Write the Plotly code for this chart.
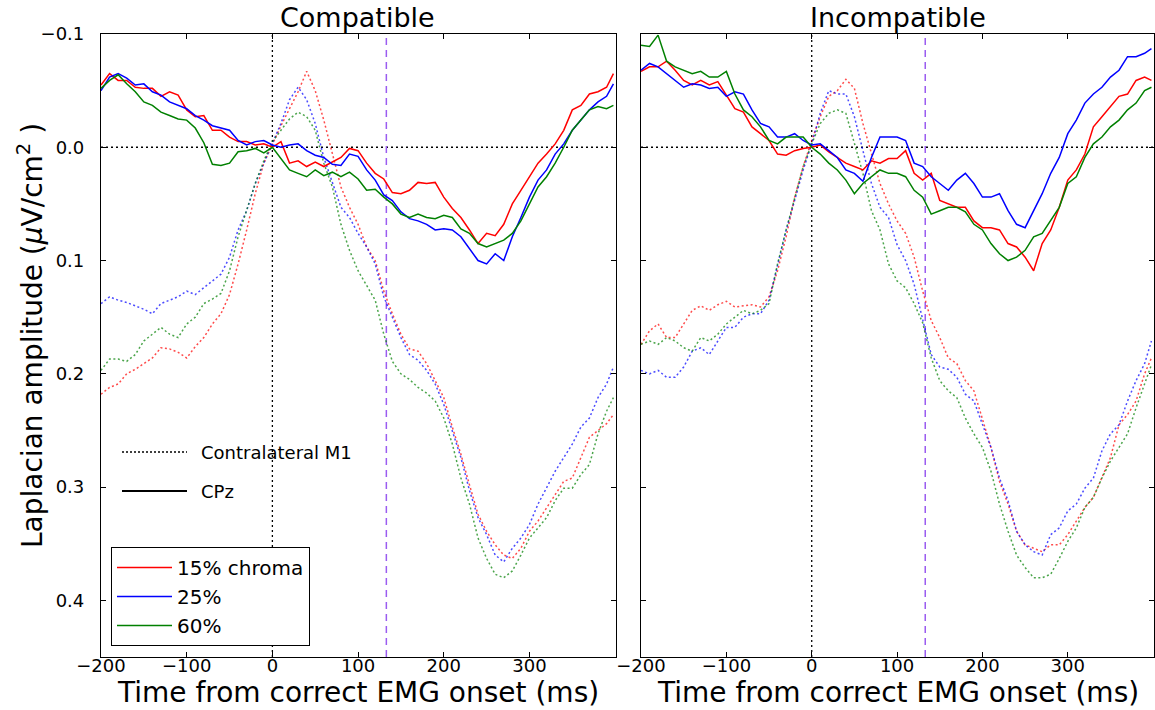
import plotly.graph_objects as go

# ---------------- data ----------------
TIME_MS = list(range(-200, 400, 10)) + [398]

CONDITIONS = ["15% chroma", "25%", "60%"]
COLORS = ["#ff0000", "#0000ff", "#008000"]

# Compatible, CPz (solid)
COMP_CPZ_15 = [-0.055, -0.065, -0.059, -0.059, -0.053, -0.052, -0.052, -0.045, -0.049, -0.046,
               -0.033, -0.027, -0.028, -0.015, -0.015, -0.009, -0.005, -0.005, -0.002, -0.003,
               0.000, -0.005, 0.014, 0.012, 0.017, 0.013, 0.017, 0.013, 0.009, 0.001,
               0.003, 0.014, 0.023, 0.028, 0.040, 0.041, 0.038, 0.031, 0.032, 0.031,
               0.044, 0.054, 0.062, 0.073, 0.085, 0.076, 0.078, 0.068, 0.050, 0.038,
               0.026, 0.014, 0.006, -0.003, -0.015, -0.033, -0.037, -0.047, -0.049, -0.053,
               -0.065]
COMP_CPZ_25 = [-0.050, -0.062, -0.065, -0.061, -0.055, -0.056, -0.049, -0.046, -0.040, -0.037,
               -0.034, -0.028, -0.024, -0.019, -0.017, -0.015, -0.006, -0.002, -0.005, -0.006,
               -0.002, 0.000, -0.002, -0.003, 0.003, 0.007, 0.009, 0.015, 0.016, 0.006,
               0.008, 0.020, 0.029, 0.042, 0.047, 0.057, 0.063, 0.065, 0.068, 0.073,
               0.072, 0.073, 0.079, 0.090, 0.100, 0.103, 0.094, 0.100, 0.079, 0.062,
               0.044, 0.029, 0.020, 0.006, -0.003, -0.015, -0.024, -0.033, -0.040, -0.045,
               -0.056]
COMP_CPZ_60 = [-0.052, -0.059, -0.064, -0.056, -0.049, -0.040, -0.037, -0.031, -0.028, -0.025,
               -0.024, -0.017, -0.004, 0.015, 0.016, 0.014, 0.004, 0.003, 0.001, 0.005,
               0.000, 0.010, 0.020, 0.023, 0.026, 0.020, 0.025, 0.022, 0.026, 0.022,
               0.028, 0.038, 0.037, 0.044, 0.050, 0.059, 0.062, 0.059, 0.062, 0.063,
               0.060, 0.062, 0.072, 0.076, 0.085, 0.088, 0.085, 0.082, 0.076, 0.065,
               0.050, 0.035, 0.026, 0.014, 0.000, -0.015, -0.024, -0.033, -0.036, -0.034,
               -0.037]

# Compatible, contralateral M1 (dotted)
COMP_M1_15 = [0.218, 0.212, 0.209, 0.200, 0.196, 0.191, 0.186, 0.177, 0.178, 0.181,
              0.186, 0.176, 0.168, 0.156, 0.147, 0.130, 0.103, 0.073, 0.041, 0.014,
              -0.003, -0.019, -0.034, -0.049, -0.067, -0.050, -0.024, 0.006, 0.035, 0.053,
              0.068, 0.088, 0.100, 0.127, 0.147, 0.165, 0.178, 0.180, 0.191, 0.206,
              0.221, 0.247, 0.271, 0.298, 0.324, 0.339, 0.351, 0.360, 0.363, 0.354,
              0.339, 0.330, 0.318, 0.306, 0.295, 0.292, 0.274, 0.256, 0.250, 0.244,
              0.236]
COMP_M1_25 = [0.138, 0.132, 0.135, 0.137, 0.140, 0.143, 0.147, 0.138, 0.135, 0.132,
              0.127, 0.130, 0.124, 0.118, 0.112, 0.097, 0.073, 0.056, 0.032, 0.014,
              -0.003, -0.021, -0.042, -0.053, -0.042, -0.021, 0.009, 0.032, 0.053, 0.062,
              0.076, 0.088, 0.103, 0.132, 0.150, 0.168, 0.183, 0.188, 0.197, 0.209,
              0.227, 0.250, 0.274, 0.303, 0.327, 0.342, 0.360, 0.366, 0.354, 0.345,
              0.333, 0.315, 0.301, 0.286, 0.274, 0.262, 0.247, 0.239, 0.221, 0.209,
              0.194]
COMP_M1_60 = [0.197, 0.187, 0.187, 0.189, 0.183, 0.171, 0.165, 0.159, 0.165, 0.168,
              0.156, 0.150, 0.138, 0.134, 0.129, 0.109, 0.079, 0.056, 0.032, 0.012,
              -0.005, -0.015, -0.025, -0.031, -0.027, -0.015, 0.014, 0.035, 0.068, 0.091,
              0.109, 0.122, 0.135, 0.165, 0.189, 0.200, 0.205, 0.212, 0.217, 0.224,
              0.239, 0.262, 0.292, 0.315, 0.345, 0.363, 0.377, 0.380, 0.374, 0.360,
              0.345, 0.336, 0.327, 0.312, 0.301, 0.301, 0.289, 0.280, 0.253, 0.233,
              0.221]

# Incompatible, CPz (solid)
INCOMP_CPZ_15 = [-0.067, -0.071, -0.071, -0.076, -0.068, -0.059, -0.055, -0.059, -0.055, -0.058,
                 -0.046, -0.034, -0.031, -0.018, -0.012, -0.006, 0.006, 0.007, 0.003, 0.001,
                 0.000, -0.002, 0.004, 0.009, 0.014, 0.017, 0.020, 0.012, 0.014, 0.010,
                 0.010, 0.003, 0.023, 0.029, 0.023, 0.047, 0.050, 0.053, 0.053, 0.065,
                 0.071, 0.071, 0.073, 0.085, 0.088, 0.097, 0.109, 0.085, 0.073, 0.053,
                 0.029, 0.020, 0.006, -0.018, -0.027, -0.036, -0.045, -0.047, -0.059, -0.062,
                 -0.059]
INCOMP_CPZ_25 = [-0.068, -0.074, -0.071, -0.065, -0.059, -0.053, -0.056, -0.055, -0.052, -0.053,
                 -0.045, -0.049, -0.047, -0.033, -0.021, -0.018, -0.009, -0.009, -0.012, -0.006,
                 -0.002, -0.003, 0.003, 0.009, 0.020, 0.023, 0.030, 0.009, -0.009, -0.009,
                 -0.009, -0.006, 0.014, 0.017, 0.026, 0.032, 0.038, 0.029, 0.023, 0.032,
                 0.044, 0.044, 0.041, 0.056, 0.068, 0.071, 0.056, 0.041, 0.023, 0.009,
                 -0.012, -0.024, -0.039, -0.047, -0.053, -0.062, -0.068, -0.080, -0.080, -0.083,
                 -0.087]
INCOMP_CPZ_60 = [-0.090, -0.089, -0.099, -0.076, -0.071, -0.068, -0.065, -0.067, -0.062, -0.062,
                 -0.067, -0.047, -0.033, -0.027, -0.018, -0.006, -0.003, -0.009, -0.009, -0.009,
                 0.000, 0.006, 0.014, 0.020, 0.029, 0.041, 0.032, 0.026, 0.020, 0.023,
                 0.023, 0.026, 0.038, 0.044, 0.059, 0.056, 0.053, 0.053, 0.057, 0.068,
                 0.073, 0.085, 0.094, 0.100, 0.097, 0.091, 0.079, 0.076, 0.065, 0.053,
                 0.032, 0.026, 0.009, -0.003, -0.009, -0.018, -0.024, -0.033, -0.039, -0.050,
                 -0.053]

# Incompatible, contralateral M1 (dotted)
INCOMP_M1_15 = [0.174, 0.162, 0.156, 0.168, 0.168, 0.156, 0.144, 0.140, 0.144, 0.139,
                0.136, 0.141, 0.140, 0.139, 0.141, 0.132, 0.109, 0.079, 0.044, 0.017,
                -0.006, -0.027, -0.045, -0.050, -0.060, -0.052, -0.021, 0.006, 0.032, 0.050,
                0.065, 0.076, 0.097, 0.127, 0.153, 0.168, 0.186, 0.191, 0.206, 0.215,
                0.239, 0.265, 0.295, 0.315, 0.339, 0.351, 0.354, 0.357, 0.351, 0.351,
                0.342, 0.330, 0.318, 0.309, 0.292, 0.274, 0.245, 0.236, 0.224, 0.200,
                0.186]
INCOMP_M1_25 = [0.197, 0.200, 0.197, 0.203, 0.203, 0.194, 0.180, 0.177, 0.183, 0.171,
                0.159, 0.159, 0.150, 0.147, 0.147, 0.135, 0.103, 0.073, 0.047, 0.020,
                -0.003, -0.030, -0.050, -0.047, -0.047, -0.027, 0.003, 0.032, 0.053, 0.062,
                0.086, 0.100, 0.121, 0.153, 0.183, 0.194, 0.196, 0.203, 0.218, 0.224,
                0.245, 0.265, 0.292, 0.312, 0.339, 0.351, 0.357, 0.360, 0.342, 0.336,
                0.321, 0.315, 0.301, 0.292, 0.268, 0.253, 0.245, 0.224, 0.206, 0.191,
                0.171]
INCOMP_M1_60 = [0.174, 0.171, 0.174, 0.168, 0.171, 0.177, 0.180, 0.168, 0.171, 0.165,
                0.156, 0.150, 0.144, 0.147, 0.144, 0.138, 0.103, 0.073, 0.044, 0.017,
                -0.003, -0.021, -0.030, -0.033, -0.030, -0.003, 0.023, 0.056, 0.073, 0.103,
                0.118, 0.124, 0.138, 0.155, 0.186, 0.206, 0.215, 0.221, 0.239, 0.253,
                0.265, 0.286, 0.315, 0.339, 0.360, 0.371, 0.380, 0.380, 0.377, 0.363,
                0.348, 0.336, 0.318, 0.309, 0.292, 0.277, 0.265, 0.253, 0.230, 0.209,
                0.192]

PANEL_TITLES = ["Compatible", "Incompatible"]
X_TITLE = "Time from correct EMG onset (ms)"
Y_TITLE = "Laplacian amplitude (<i>\u03bc</i>V/cm<sup>2</sup> )"
X_TICKS = [-200, -100, 0, 100, 200, 300]
X_TICK_TEXT = ["\u2212200", "\u2212100", "0", "100", "200", "300"]
Y_TICKS = [-0.1, 0.0, 0.1, 0.2, 0.3, 0.4]
Y_TICK_TEXT = ["\u22120.1", "0.0", "0.1", "0.2", "0.3", "0.4"]
EMG_ONSET_MS = 0
MARKER_MS = 133

# ---------------- figure ----------------
W, H = 1155, 710
FONT = "DejaVu Sans"


def px_x(p):
    return p / W


def px_y(p):
    return 1 - p / H


fig = go.Figure()

panels = [
    ("x", "y", [COMP_CPZ_15, COMP_CPZ_25, COMP_CPZ_60], [COMP_M1_15, COMP_M1_25, COMP_M1_60]),
    ("x2", "y2", [INCOMP_CPZ_15, INCOMP_CPZ_25, INCOMP_CPZ_60], [INCOMP_M1_15, INCOMP_M1_25, INCOMP_M1_60]),
]

for pi, (xa, ya, cpz, m1) in enumerate(panels):
    for ci in range(3):
        fig.add_trace(go.Scatter(
            x=TIME_MS, y=m1[ci], mode="lines", xaxis=xa, yaxis=ya,
            line=dict(color=COLORS[ci], width=1.5, dash="2px,2.5px"),
            opacity=0.7, showlegend=False, hoverinfo="skip"))
    for ci in range(3):
        fig.add_trace(go.Scatter(
            x=TIME_MS, y=cpz[ci], mode="lines", xaxis=xa, yaxis=ya,
            line=dict(color=COLORS[ci], width=1.5),
            name=CONDITIONS[ci], showlegend=(pi == 0), hoverinfo="skip"))

axis_common = dict(showline=True, linecolor="black", linewidth=1.2, mirror="ticks",
                   ticks="inside", ticklen=5, tickcolor="black", tickwidth=1,
                   showgrid=False, zeroline=False, automargin=False,
                   tickfont=dict(family=FONT, size=18, color="black"))

fig.update_layout(
    width=W, height=H,
    margin=dict(l=0, r=0, t=0, b=0, autoexpand=False),
    paper_bgcolor="white", plot_bgcolor="white",
    font=dict(family=FONT, color="black"),
    xaxis=dict(domain=[px_x(101), px_x(616)], range=[-200, 401], anchor="y",
               tickvals=X_TICKS, ticktext=X_TICK_TEXT, ticklabelstandoff=-8, **axis_common),
    yaxis=dict(domain=[px_y(657), px_y(34)], range=[0.45, -0.1], anchor="x",
               tickvals=Y_TICKS, ticktext=Y_TICK_TEXT, ticklabelstandoff=12, **axis_common),
    xaxis2=dict(domain=[px_x(641), px_x(1154)], range=[-200, 401], anchor="y2",
                tickvals=X_TICKS, ticktext=X_TICK_TEXT, ticklabelstandoff=-8, **axis_common),
    yaxis2=dict(domain=[px_y(657), px_y(34)], range=[0.45, -0.1], anchor="x2",
                tickvals=Y_TICKS, showticklabels=False, **axis_common),
    legend=dict(x=px_x(111), y=px_y(547), xanchor="left", yanchor="top",
                bordercolor="black", borderwidth=1, bgcolor="white",
                font=dict(family=FONT, size=20, color="black"),
                itemwidth=55),
    showlegend=True,
)

shapes = []
for xa, ya in [("x", "y"), ("x2", "y2")]:
    shapes.append(dict(type="line", xref=f"{xa} domain", yref=ya, x0=0, x1=1, y0=0, y1=0,
                       line=dict(color="black", width=1.3, dash="2px,3px"), layer="below"))
    shapes.append(dict(type="line", xref=xa, yref=f"{ya} domain", x0=EMG_ONSET_MS, x1=EMG_ONSET_MS,
                       y0=0, y1=1, line=dict(color="black", width=1.3, dash="2px,3px"), layer="below"))
    shapes.append(dict(type="line", xref=xa, yref=f"{ya} domain", x0=MARKER_MS, x1=MARKER_MS,
                       y0=0, y1=1, line=dict(color="#9b5cf0", width=1.5, dash="7px,5px"), layer="below"))

# channel key (line style legend) in left panel
shapes.append(dict(type="line", xref="paper", yref="paper", x0=px_x(122), x1=px_x(187),
                   y0=px_y(452), y1=px_y(452), line=dict(color="black", width=1.5, dash="2px,2px")))
shapes.append(dict(type="line", xref="paper", yref="paper", x0=px_x(122), x1=px_x(187),
                   y0=px_y(491), y1=px_y(491), line=dict(color="black", width=2)))


def ann(text, x, y, size, xanchor="center", angle=0):
    return dict(text=text, x=px_x(x), y=px_y(y), xref="paper", yref="paper",
                showarrow=False, xanchor=xanchor, yanchor="middle", textangle=angle,
                font=dict(family=FONT, size=size, color="black"))


annotations = [
    ann(PANEL_TITLES[0], 358, 18, 27),
    ann(PANEL_TITLES[1], 898, 18, 27),
    ann(X_TITLE, 358, 692, 28),
    ann(X_TITLE, 898, 692, 28),
    ann(Y_TITLE, 30, 336, 28, angle=-90),
    ann("Contralateral M1", 199, 452, 18, xanchor="left"),
    ann("CPz", 199, 491, 18, xanchor="left"),
]

fig.update_layout(shapes=shapes, annotations=annotations)

# remove the browser's default 8px page margin so the figure fills the window exactly
fig.write_html("out.html", config={"displayModeBar": False},
               post_script="document.body.style.margin='0px';")
